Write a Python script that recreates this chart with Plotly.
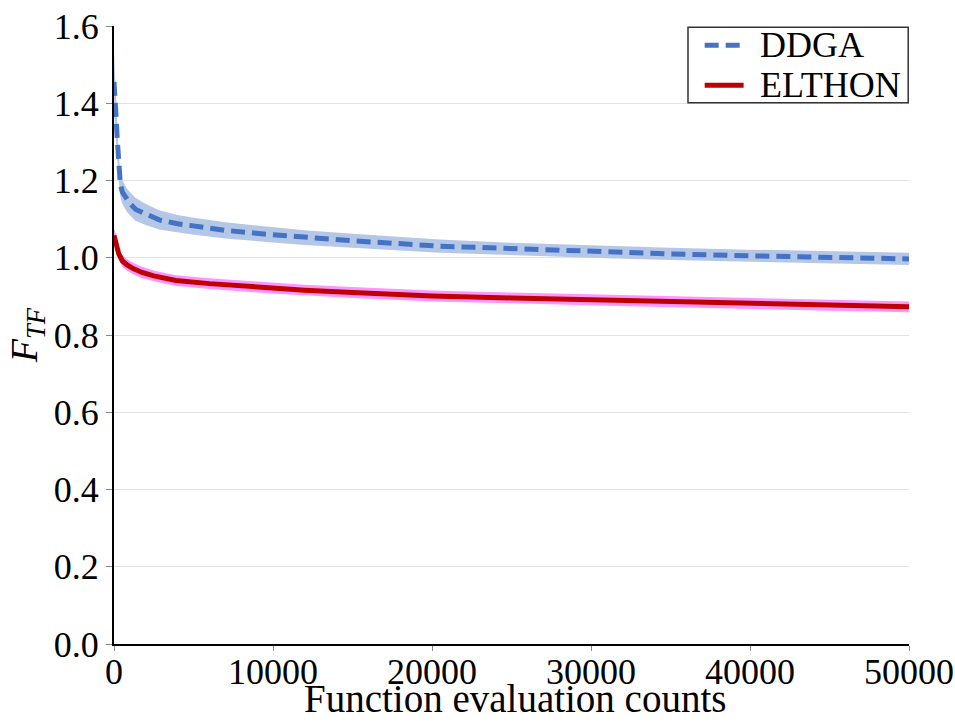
import plotly.graph_objects as go

# DDGA
ddga_x = [0, 50, 100, 150, 200, 250, 300, 400, 525, 800, 1000, 1370, 2000, 2840, 4000, 4920,
          7000, 9580, 12000, 15000, 20490, 25000, 31000, 35000, 40000, 45000, 50000]
ddga_mean = [1.455, 1.43, 1.39, 1.35, 1.31, 1.27, 1.23, 1.19, 1.17, 1.15, 1.14, 1.125, 1.112, 1.098,
             1.088, 1.082, 1.071, 1.061, 1.052, 1.044, 1.030, 1.023, 1.015, 1.010, 1.005, 1.001, 0.997]
ddga_half = [0.08, 0.07, 0.06, 0.05, 0.045, 0.04, 0.035, 0.033, 0.03, 0.03, 0.03, 0.03, 0.027, 0.025,
             0.023, 0.022, 0.021, 0.02, 0.019, 0.018, 0.017, 0.016, 0.016, 0.016, 0.016, 0.016, 0.016]

# ELTHON
elt_x = [0, 100, 200, 300, 525, 800, 1200, 1770, 2500, 3900, 6000, 9580, 12000, 15000, 20000,
         25000, 31000, 35000, 40000, 45000, 50000]
elt_mean = [1.058, 1.045, 1.025, 1.01, 0.992, 0.982, 0.972, 0.962, 0.953, 0.941, 0.933, 0.922, 0.916,
            0.910, 0.901, 0.896, 0.890, 0.886, 0.881, 0.877, 0.873]
elt_half = [0.018, 0.017, 0.016, 0.015, 0.015, 0.015, 0.015, 0.015, 0.014, 0.014, 0.014, 0.014, 0.014,
            0.014, 0.014, 0.014, 0.014, 0.014, 0.014, 0.014, 0.014]

series_names = ["DDGA", "ELTHON"]
x_ticks = [0, 10000, 20000, 30000, 40000, 50000]
y_ticks = [0.0, 0.2, 0.4, 0.6, 0.8, 1.0, 1.2, 1.4, 1.6]
x_title = "Function evaluation counts"
y_title = "<i>F</i><sub><i>TF</i></sub>"

FONT = "Liberation Serif, Times New Roman, serif"
BLUE = "#4472C4"
RED = "#C00000"
DASH = "14px,7px"

def band(x, m, h, color):
    up = [a + b for a, b in zip(m, h)]
    lo = [a - b for a, b in zip(m, h)]
    return go.Scatter(x=list(x) + list(x)[::-1], y=up + lo[::-1], fill="toself",
                      fillcolor=color, line=dict(width=0), mode="lines",
                      showlegend=False, hoverinfo="skip")

fig = go.Figure()
fig.add_trace(band(ddga_x, ddga_mean, ddga_half, "rgb(180,199,231)"))
fig.add_trace(band(elt_x, elt_mean, elt_half, "rgb(255,150,255)"))
fig.add_trace(go.Scatter(x=ddga_x, y=ddga_mean, mode="lines", name=series_names[0],
                         showlegend=False, line=dict(color=BLUE, width=5, dash=DASH)))
fig.add_trace(go.Scatter(x=elt_x, y=elt_mean, mode="lines", name=series_names[1],
                         showlegend=False, line=dict(color=RED, width=5)))

# manual legend (box, sample lines, labels) in paper coordinates
fig.add_shape(type="rect", xref="paper", yref="paper", x0=0.722, x1=0.999, y0=0.876, y1=0.998,
              line=dict(color="#333333", width=1.5), fillcolor="white", layer="above")
leg_y = [0.969, 0.904]
leg_style = [dict(color=BLUE, width=5, dash=DASH), dict(color=RED, width=5)]
for name, yy, st in zip(series_names, leg_y, leg_style):
    fig.add_shape(type="line", xref="paper", yref="paper", x0=0.743, x1=0.792, y0=yy, y1=yy,
                  line=st, layer="above")
    fig.add_annotation(xref="paper", yref="paper", x=0.810, y=yy, xanchor="left", yanchor="middle",
                       text=name, showarrow=False, font=dict(family=FONT, size=36, color="black"))

# x-axis title
fig.add_annotation(xref="paper", yref="paper", x=0.505, y=0, yshift=-78, xanchor="center",
                   yanchor="bottom", text=x_title, showarrow=False,
                   font=dict(family=FONT, size=39, color="black"))

fig.update_layout(
    width=955, height=722,
    margin=dict(l=114, r=46, t=26, b=78),
    plot_bgcolor="white", paper_bgcolor="white",
    font=dict(family=FONT, size=35, color="black"),
    showlegend=False,
    xaxis=dict(range=[0, 50000], tickvals=x_ticks, ticktext=[str(v) for v in x_ticks],
               showgrid=False, zeroline=False, showline=True, linecolor="black", linewidth=2,
               ticks="outside", ticklen=5, tickcolor="#888888", automargin=False,
               ticklabelstandoff=-10,
               tickfont=dict(family=FONT, size=36)),
    yaxis=dict(range=[0, 1.6], tickvals=y_ticks, ticktext=["%.1f" % v for v in y_ticks],
               showgrid=True, gridcolor="#e3e3e3", gridwidth=1, zeroline=False,
               showline=True, linecolor="black", linewidth=2, automargin=False,
               ticks="outside", ticklen=6, tickcolor="#888888",
               tickfont=dict(family=FONT, size=36),
               title=dict(text=y_title, font=dict(family=FONT, size=38), standoff=4)),
)

fig.write_html("out.html")
